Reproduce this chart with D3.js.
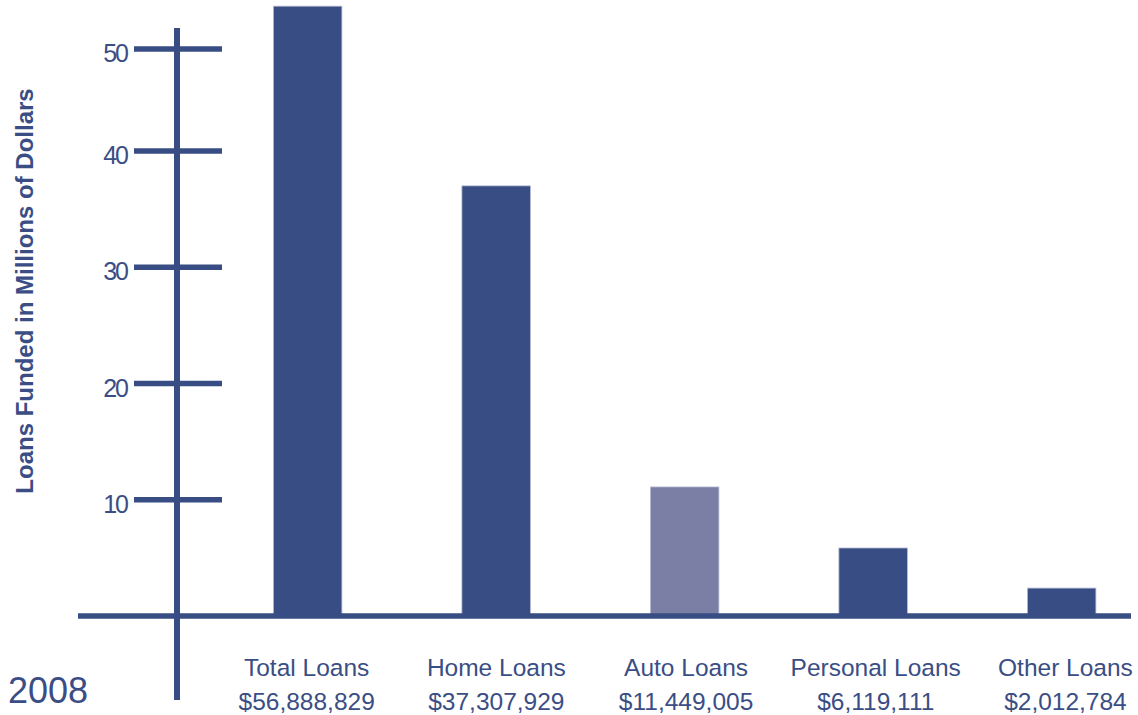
<!DOCTYPE html>
<html>
<head>
<meta charset="utf-8">
<script src="https://cdn.jsdelivr.net/npm/d3@7"></script>
<style>
  body { margin: 0; background: #fff; }
  text { font-family: "Liberation Sans", Arial, sans-serif; fill: #3a4e85; }
</style>
</head>
<body>
<div id="chart"></div>
<script>
// data (bar heights in axis units, labels as printed)
var categories = ["Total Loans", "Home Loans", "Auto Loans", "Personal Loans", "Other Loans"];
var amounts = ["$56,888,829", "$37,307,929", "$11,449,005", "$6,119,111", "$2,012,784"];
var values = [54.2, 37.0, 11.1, 5.85, 2.4];
var highlight = [false, false, true, false, false];
var tickValues = [10, 20, 30, 40, 50];
var yearLabel = "2008";

var W = 1138, H = 715;
var dark = "#384d83", light = "#7b7fa6";

var svg = d3.select("#chart").append("svg")
    .attr("width", W)
    .attr("height", H);

// y scale - the 40..50 step is drawn shorter in the original
var y = d3.scaleLinear().domain([0, 40, 50]).range([616, 151, 49]);

// bars every 188.5px, 68.5px wide, first one starting near x=273
var step = 188.5, pad = 1 - 68.5 / step, x0 = 273.4;
var r0 = x0 - pad * step;
var x = d3.scaleBand().domain(categories)
    .range([r0, r0 + step * (categories.length - pad + 2 * pad)])
    .paddingInner(pad).paddingOuter(pad);

var axisX = 177;

// bars
svg.selectAll(".bar")
    .data(values)
    .enter().append("rect")
        .attr("class", "bar")
        .attr("x", function(d, i) { return x(categories[i]); })
        .attr("width", x.bandwidth())
        .attr("y", function(d) { return y(d); })
        .attr("height", function(d) { return y(0) - y(d); })
        .attr("fill", function(d, i) { return highlight[i] ? light : dark; })
        .attr("stroke", "#b4bbd2")
        .attr("stroke-width", 0.8);

// baseline
svg.append("line")
    .attr("x1", 78).attr("x2", 1131)
    .attr("y1", y(0)).attr("y2", y(0))
    .attr("stroke", dark).attr("stroke-width", 5.5);

// vertical axis
svg.append("line")
    .attr("x1", axisX).attr("x2", axisX)
    .attr("y1", 28).attr("y2", 700)
    .attr("stroke", dark).attr("stroke-width", 6);

// ticks crossing the axis
svg.selectAll(".tick")
    .data(tickValues)
    .enter().append("line")
        .attr("class", "tick")
        .attr("x1", axisX - 43).attr("x2", axisX + 45)
        .attr("y1", function(d) { return y(d); })
        .attr("y2", function(d) { return y(d); })
        .attr("stroke", dark).attr("stroke-width", 5.5);

svg.selectAll(".ticklabel")
    .data(tickValues)
    .enter().append("text")
        .attr("class", "ticklabel")
        .attr("x", 127)
        .attr("y", function(d) { return y(d) + 13; })
        .style("text-anchor", "end")
        .style("font-size", "25px")
        .style("letter-spacing", "-2px")
        .text(function(d) { return d; });

// category labels, slightly right of bar centre like the original
svg.selectAll(".cat")
    .data(categories)
    .enter().append("text")
        .attr("class", "cat")
        .attr("x", function(d, i) { return x(d) + x.bandwidth() / 2 + i * 1.2 - 1; })
        .attr("y", 676)
        .style("text-anchor", "middle")
        .style("font-size", "24.5px")
        .text(function(d) { return d; });

svg.selectAll(".amt")
    .data(amounts)
    .enter().append("text")
        .attr("class", "amt")
        .attr("x", function(d, i) { return x(categories[i]) + x.bandwidth() / 2 + i * 1.2 - 1; })
        .attr("y", 710)
        .style("text-anchor", "middle")
        .style("font-size", "24.5px")
        .text(function(d) { return d; });

// y axis title
svg.append("text")
    .attr("transform", "translate(33,291) rotate(-90)")
    .style("text-anchor", "middle")
    .style("font-size", "24px")
    .style("font-weight", "bold")
    .text("Loans Funded in Millions of Dollars");

// year
svg.append("text")
    .attr("x", 8)
    .attr("y", 703)
    .style("font-size", "36px")
    .text(yearLabel);
</script>
</body>
</html>
